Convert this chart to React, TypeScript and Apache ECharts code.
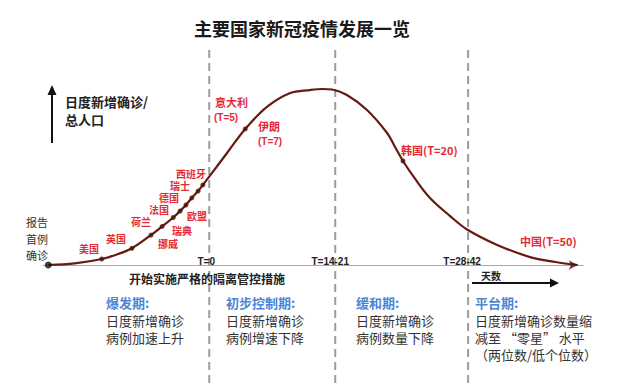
import React, { useEffect, useRef } from "react";
import * as echarts from "echarts";

// Conceptual epidemic curve: x = relative time (0-100), y = relative daily new cases / population (0-100)
const curveX = [0, 5.0, 10.1, 13.5, 15.8, 19.4, 21.5, 23.6, 24.9, 26.0, 27.1, 28.3, 29.2, 30.5, 33.9, 37.2, 41.3, 45.7, 49.4, 51.7, 53.6, 56.4, 60.2, 64.0, 65.5, 67.0, 69.3, 72.1, 75.9, 79.1, 84.8, 91.0, 95.8, 100];
const curveY = [0, 0.9, 3.4, 6.6, 9.5, 17.0, 21.9, 27.0, 30.7, 34.1, 38.1, 42.0, 45.5, 50.6, 64.2, 77.3, 89.8, 97.7, 99.4, 100, 99.7, 96.6, 88.1, 75.0, 67.0, 59.1, 48.9, 38.1, 27.8, 20.2, 11.4, 4.5, 1.7, 0];

// Country markers on the curve
const markerNames = ["美国", "英国", "荷兰", "挪威", "瑞典", "欧盟", "法国", "德国", "瑞士", "西班牙", "意大利", "韩国"];
const markerX = [10.1, 15.8, 19.4, 21.5, 23.6, 24.9, 26.0, 27.1, 28.3, 29.2, 37.2, 67.0];
const markerY = [3.4, 9.5, 17.0, 21.9, 27.0, 30.7, 34.1, 38.1, 42.0, 45.5, 77.3, 59.1];

// Phase boundaries
const phaseX = [30.4, 54.2, 79.3];
const phaseTickLabels = ["T=0", "T=14-21", "T=28-42"];

const titleText = "主要国家新冠疫情发展一览";
const yAxisLabel = ["日度新增确诊/", "总人口"];
const firstCaseLabel = ["报告", "首例", "确诊"];
const actionLabel = "开始实施严格的隔离管控措施";
const xAxisLabel = "天数";

const phaseTitles = ["爆发期:", "初步控制期:", "缓和期:", "平台期:"];
const phaseTexts = [
  ["日度新增确诊", "病例加速上升"],
  ["日度新增确诊", "病例增速下降"],
  ["日度新增确诊", "病例数量下降"],
  ["日度新增确诊数量缩", "减至 “零星” 水平", "（两位数/低个位数）"],
];

// Annotation labels (text, layout)
const countryLabels = ["美国", "英国", "荷兰", "法国", "德国", "瑞士", "西班牙", "欧盟", "瑞典", "挪威"];
const countryLabelPos = [
  [89, 248], [116, 238], [141, 221], [159, 209], [169, 197], [180, 185], [191, 173], [197, 215], [182, 230], [168, 243],
];

const CJK = '"Noto Sans CJK SC", "Noto Sans", sans-serif';
const LAT = '"Liberation Sans", Arial, sans-serif';
const RED = "#e62a33";
const BLUE = "#4a86d6";
const CURVE = "#661a10";

function txt(x: number, y: number, text: string, size: number, color: string, opts: any = {}) {
  const align = opts.align || "left";
  return {
    type: "text",
    x,
    y,
    silent: true,
    z: 10,
    style: {
      text,
      fill: color,
      fontSize: size,
      fontWeight: opts.bold ? "bold" : "normal",
      fontFamily: opts.family || CJK,
      lineHeight: size,
      align,
      verticalAlign: "middle",
      textAlign: align,
      textVerticalAlign: "middle",
    },
  };
}

export default function App() {
  const ref = useRef<HTMLDivElement>(null);

  useEffect(() => {
    if (!ref.current) return;
    const chart = echarts.init(ref.current, null, { renderer: "svg" });
    const option: any = {
      animation: false,
      backgroundColor: "#ffffff",
      grid: { left: 43, right: 58, top: 89, bottom: 124, containLabel: false },
      xAxis: {
        type: "value",
        min: -1,
        max: 101,
        axisLine: { show: true, onZero: false, lineStyle: { color: "#a9a9a9", width: 1 } },
        axisTick: { show: false },
        axisLabel: { show: false },
        splitLine: { show: false },
      },
      yAxis: { type: "value", min: 0, max: 100, show: false },
      series: [
        {
          type: "line",
          data: curveX.map((x, i) => [x, curveY[i]]),
          smooth: 0.35,
          symbol: "none",
          clip: false,
          lineStyle: { color: CURVE, width: 2.2 },
          z: 3,
        },
        {
          type: "scatter",
          data: markerX.map((x, i) => ({ name: markerNames[i], value: [x, markerY[i]] })),
          symbolSize: 5,
          itemStyle: { color: "#4e120a" },
          z: 4,
        },
        {
          type: "scatter",
          data: [[curveX[0], curveY[0]]],
          symbolSize: 7,
          itemStyle: { color: "#111111" },
          z: 4,
        },
        {
          type: "scatter",
          data: [[curveX[curveX.length - 1], curveY[curveY.length - 1]]],
          symbol: "arrow",
          symbolSize: [7, 9],
          symbolRotate: -90,
          itemStyle: { color: "#4e120a" },
          z: 4,
        },
      ],
    };
    chart.setOption(option);

    const xs = phaseX.map((v) => (chart.convertToPixel({ gridIndex: 0 }, [v, 0]) as number[])[0]);

    const g: any[] = [];
    // title
    g.push(txt(302, 28, titleText, 18, "#1a1a1a", { bold: true, align: "center" }));
    // y axis arrow & label
    g.push({ type: "line", silent: true, shape: { x1: 52, y1: 143, x2: 52, y2: 93 }, style: { stroke: "#111", lineWidth: 2 } });
    g.push({ type: "polygon", silent: true, shape: { points: [[52, 85], [47.5, 95], [56.5, 95]] }, style: { fill: "#111" } });
    g.push(txt(65, 101, yAxisLabel[0], 13, "#222", { bold: true }));
    g.push(txt(65, 119, yAxisLabel[1], 13, "#222", { bold: true }));
    firstCaseLabel.forEach((t, i) => g.push(txt(37, 222 + i * 16.5, t, 11, "#333", { align: "center" })));
    // dashed phase lines
    xs.forEach((x) => {
      g.push({
        type: "line",
        silent: true,
        z: 1,
        shape: { x1: x, y1: 50, x2: x, y2: 385 },
        style: { stroke: "#9c9c9c", lineWidth: 2, lineDash: [8, 5] },
      });
    });
    const tOff = [-3, -5, -6];
    xs.forEach((x, i) => g.push(txt(x + tOff[i], 261, phaseTickLabels[i], 10, "#222", { bold: true, align: "center", family: LAT })));
    g.push(txt(207, 278, actionLabel, 12, "#222", { bold: true, align: "center" }));
    // x axis arrow
    g.push(txt(491, 275, xAxisLabel, 10, "#222", { bold: true, align: "center" }));
    g.push({ type: "line", silent: true, shape: { x1: 472, y1: 283, x2: 551, y2: 283 }, style: { stroke: "#111", lineWidth: 2 } });
    g.push({ type: "polygon", silent: true, shape: { points: [[559, 283], [550, 278.5], [550, 287.5]] }, style: { fill: "#111" } });
    // country labels
    countryLabels.forEach((t, i) => g.push(txt(countryLabelPos[i][0], countryLabelPos[i][1], t, 10, RED, { bold: true, align: "center" })));
    g.push(txt(215, 102, "意大利", 11, RED, { bold: true }));
    g.push(txt(214, 117, "(T=5)", 10, RED, { bold: true, family: LAT }));
    g.push(txt(258, 126, "伊朗", 11, RED, { bold: true }));
    g.push(txt(258, 141, "(T=7)", 10, RED, { bold: true, family: LAT }));
    g.push(txt(401, 150, "韩国(T=20)", 11, RED, { bold: true }));
    g.push(txt(520, 241, "中国(T=50)", 11, RED, { bold: true }));
    // phase descriptions
    const colX = [106, 226, 356, 475];
    phaseTitles.forEach((t, i) => {
      g.push(txt(colX[i], 302, t, 13, BLUE, { bold: true }));
      phaseTexts[i].forEach((line, j) => g.push(txt(colX[i], 320 + j * 17, line, 13, "#333")));
    });

    chart.setOption({ graphic: g });

    return () => chart.dispose();
  }, []);

  return (
    <div
      ref={ref}
      style={{ position: "absolute", left: 0, top: 0, width: 641, height: 389, background: "#fff" }}
    />
  );
}
